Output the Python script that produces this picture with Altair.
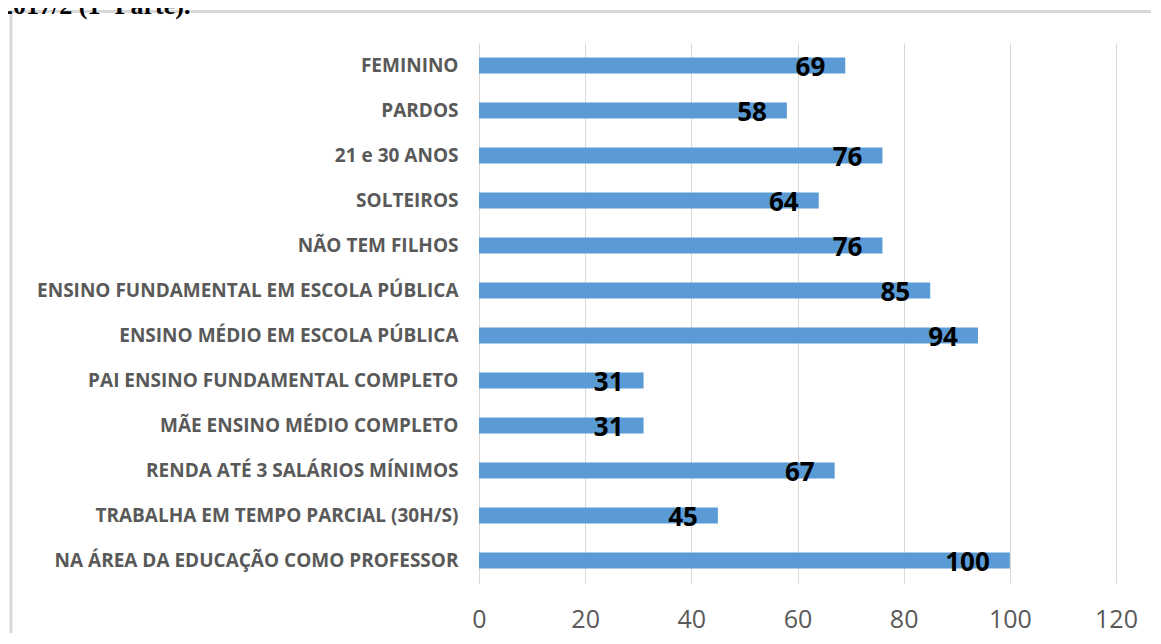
import altair as alt
import pandas as pd

categories = [
    "FEMININO",
    "PARDOS",
    "21 e 30 ANOS",
    "SOLTEIROS",
    "NÃO TEM FILHOS",
    "ENSINO FUNDAMENTAL EM ESCOLA PÚBLICA",
    "ENSINO MÉDIO EM ESCOLA PÚBLICA",
    "PAI ENSINO FUNDAMENTAL COMPLETO",
    "MÃE ENSINO MÉDIO COMPLETO",
    "RENDA ATÉ 3 SALÁRIOS MÍNIMOS",
    "TRABALHA EM TEMPO PARCIAL (30H/S)",
    "NA ÁREA DA EDUCAÇÃO COMO PROFESSOR",
]
values = [69, 58, 76, 64, 76, 85, 94, 31, 31, 67, 45, 100]
x_ticks = [0, 20, 40, 60, 80, 100, 120]
header = "2017/2 (1ª Parte)."

df = pd.DataFrame({"cat": categories, "val": values})

y_enc = alt.Y(
    "cat:N",
    sort=categories,
    scale=alt.Scale(paddingInner=0.644, paddingOuter=0.322),
    axis=alt.Axis(
        title=None,
        ticks=False,
        domain=False,
        labelFont="Open Sans",
        labelFontWeight="bold",
        labelFontSize=19,
        labelColor="#595959",
        labelPadding=21,
        labelLimit=600,
    ),
)
x_enc = alt.X(
    "val:Q",
    scale=alt.Scale(domain=[0, 120], nice=False),
    axis=alt.Axis(
        title=None,
        values=x_ticks,
        ticks=False,
        domain=False,
        grid=True,
        gridColor="#d9d9d9",
        gridWidth=1,
        labelFont="Open Sans",
        labelFontSize=25,
        labelColor="#595959",
        labelPadding=24,
        labelFlush=False,
    ),
)

base = alt.Chart(df)

bars = base.mark_bar(color="#5B9BD5").encode(x=x_enc, y=y_enc)

labels = base.mark_text(
    align="right",
    baseline="middle",
    dx=-20,
    dy=2,
    font="Open Sans",
    fontWeight="bold",
    fontSize=26,
    color="#000000",
).encode(x="val:Q", y=alt.Y("cat:N", sort=categories), text="val:Q")

frame = alt.Chart(pd.DataFrame({"k": [0]})).mark_rect(
    fill=None, stroke="#d9d9d9", strokeWidth=3
).encode(
    x=alt.value(-468), x2=alt.value(720), y=alt.value(-31.5), y2=alt.value(700)
)

head = alt.Chart(pd.DataFrame({"t": [header]})).mark_text(
    align="left",
    baseline="alphabetic",
    font="Liberation Serif",
    fontWeight="bold",
    fontSize=26,
    color="#000000",
).encode(x=alt.value(-479), y=alt.value(-29), text="t:N")

chart = (
    alt.layer(frame, bars, labels, head)
    .properties(
        width=637,
        height=540,
        autosize=alt.AutoSizeParams(type="none"),
        padding={"left": 471, "top": 35, "right": 35, "bottom": 50},
    )
    .configure_view(stroke=None)
)

chart.save("out.html", embed_options={"renderer": "svg", "actions": False})
